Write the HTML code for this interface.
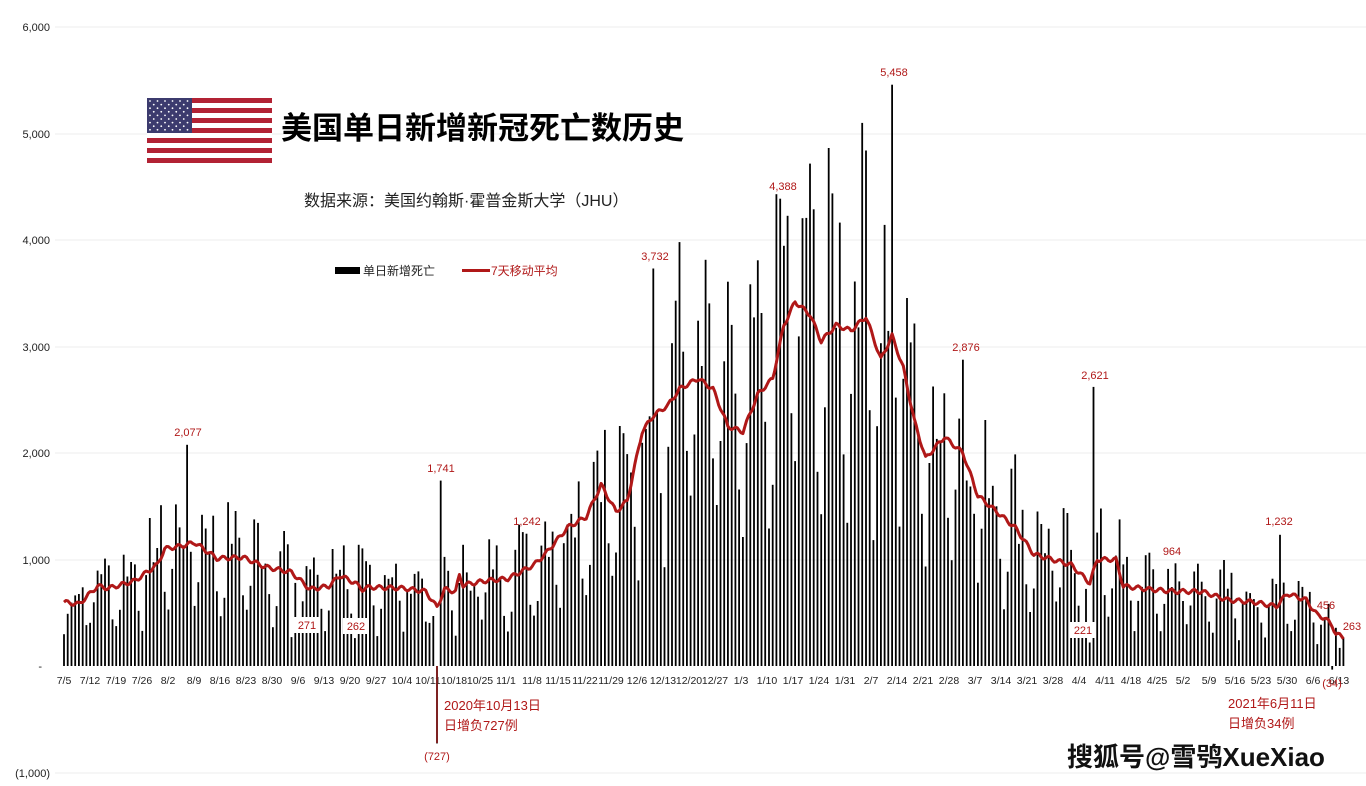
<!DOCTYPE html>
<html><head><meta charset="utf-8"><style>
html,body{margin:0;padding:0;background:#fff;width:1366px;height:786px;overflow:hidden}
svg text{font-family:"Liberation Sans","Noto Sans CJK SC",sans-serif}
</style></head><body>
<svg id="s" width="1366" height="786" xmlns="http://www.w3.org/2000/svg">
<g stroke="#ececec" stroke-width="1">
<line x1="55" x2="1366" y1="27" y2="27"/><line x1="55" x2="1366" y1="134" y2="134"/>
<line x1="55" x2="1366" y1="240" y2="240"/><line x1="55" x2="1366" y1="347" y2="347"/>
<line x1="55" x2="1366" y1="453" y2="453"/><line x1="55" x2="1366" y1="560" y2="560"/>
<line x1="55" x2="1366" y1="773" y2="773"/>
</g>
<g font-size="11" fill="#222" text-anchor="end">
<text x="50" y="31">6,000</text><text x="50" y="138">5,000</text><text x="50" y="244">4,000</text>
<text x="50" y="351">3,000</text><text x="50" y="457">2,000</text><text x="50" y="564">1,000</text>
<text x="42" y="670">-</text><text x="50" y="777">(1,000)</text>
</g>
<g id="bars" fill="#000"></g>
<path id="ma" fill="none" stroke="#b01818" stroke-width="3" stroke-linejoin="round"/>
<g font-size="10.5" fill="#222" text-anchor="middle" id="ticks">
<text x="64" y="684">7/5</text><text x="90" y="684">7/12</text><text x="116" y="684">7/19</text><text x="142" y="684">7/26</text><text x="168" y="684">8/2</text><text x="194" y="684">8/9</text><text x="220" y="684">8/16</text><text x="246" y="684">8/23</text><text x="272" y="684">8/30</text><text x="298" y="684">9/6</text><text x="324" y="684">9/13</text><text x="350" y="684">9/20</text><text x="376" y="684">9/27</text><text x="402" y="684">10/4</text><text x="428" y="684">10/11</text><text x="454" y="684">10/18</text><text x="480" y="684">10/25</text><text x="506" y="684">11/1</text><text x="532" y="684">11/8</text><text x="558" y="684">11/15</text><text x="585" y="684">11/22</text><text x="611" y="684">11/29</text><text x="637" y="684">12/6</text><text x="663" y="684">12/13</text><text x="689" y="684">12/20</text><text x="715" y="684">12/27</text><text x="741" y="684">1/3</text><text x="767" y="684">1/10</text><text x="793" y="684">1/17</text><text x="819" y="684">1/24</text><text x="845" y="684">1/31</text><text x="871" y="684">2/7</text><text x="897" y="684">2/14</text><text x="923" y="684">2/21</text><text x="949" y="684">2/28</text><text x="975" y="684">3/7</text><text x="1001" y="684">3/14</text><text x="1027" y="684">3/21</text><text x="1053" y="684">3/28</text><text x="1079" y="684">4/4</text><text x="1105" y="684">4/11</text><text x="1131" y="684">4/18</text><text x="1157" y="684">4/25</text><text x="1183" y="684">5/2</text><text x="1209" y="684">5/9</text><text x="1235" y="684">5/16</text><text x="1261" y="684">5/23</text><text x="1287" y="684">5/30</text><text x="1313" y="684">6/6</text><text x="1339" y="684">6/13</text>
</g>
<g fill="#fff">
<rect x="294" y="617" width="26" height="16"/><rect x="343" y="618" width="26" height="16"/><rect x="1070" y="622" width="26" height="16"/>
</g>
<g font-size="11" fill="#b01818" text-anchor="middle">
<text x="188" y="436">2,077</text><text x="441" y="472">1,741</text><text x="527" y="525">1,242</text>
<text x="655" y="260">3,732</text><text x="783" y="190">4,388</text><text x="894" y="76">5,458</text>
<text x="966" y="351">2,876</text><text x="1095" y="379">2,621</text><text x="1172" y="555">964</text>
<text x="1279" y="525">1,232</text><text x="1326" y="609">456</text><text x="1352" y="630">263</text>
<text x="1083" y="634">221</text><text x="307" y="629">271</text><text x="356" y="630">262</text>
<text x="437" y="760">(727)</text><text x="1332" y="687">(34)</text>
</g>
<line x1="437" y1="666" x2="437" y2="743" stroke="#b01818" stroke-width="1.2"/>
<g font-size="13" fill="#b01818">
<text x="444" y="710">2020年10月13日</text><text x="444" y="730">日增负727例</text>
<text x="1228" y="708">2021年6月11日</text><text x="1228" y="728">日增负34例</text>
</g>
<g>
<rect x="147" y="98" width="125" height="66" fill="#fff"/>
<g fill="#b22234">
<rect x="147" y="98" width="125" height="5"/><rect x="147" y="108" width="125" height="5"/><rect x="147" y="118" width="125" height="5"/><rect x="147" y="128" width="125" height="5"/><rect x="147" y="138" width="125" height="5"/><rect x="147" y="148" width="125" height="5"/><rect x="147" y="158" width="125" height="5"/>
</g>
<rect x="147" y="98" width="45" height="35" fill="#3c3b6e"/>
<g id="stars" fill="#fff"></g>
</g>
<text x="281" y="139" font-size="31" font-weight="bold" fill="#000">美国单日新增新冠死亡数历史</text>
<text x="304" y="206" font-size="16" fill="#222">数据来源：美国约翰斯·霍普金斯大学（JHU）</text>
<rect x="335" y="267" width="25" height="7" fill="#000"/>
<text x="363" y="275" font-size="12" fill="#222">单日新增死亡</text>
<line x1="462" y1="270.5" x2="490" y2="270.5" stroke="#b01818" stroke-width="3"/>
<text x="491" y="275" font-size="12" fill="#b01818">7天移动平均</text>
<text x="1067" y="766" font-size="26" font-weight="bold" fill="#111">搜狐号@雪鸮XueXiao</text>
</svg>
<script>
var X=function(d){return 64+d*3.73},Y=function(v){return 666-v*0.1065};
var cp=[[0,600],[4,580],[9,750],[12,730],[19,800],[25,950],[27,1100],[32,1130],[35,1160],[41,1010],[48,1020],[54,930],[61,880],[66,720],[71,750],[74,850],[78,780],[80,720],[82,740],[91,730],[97,700],[100,550],[102,720],[105,700],[106,850],[107,760],[113,800],[119,820],[126,950],[129,1050],[135,1300],[140,1400],[144,1700],[148,1450],[151,1550],[155,2200],[158,2350],[162,2450],[165,2600],[170,2700],[174,2600],[178,2250],[182,2200],[186,2550],[190,2700],[193,3200],[196,3420],[200,3300],[203,3050],[207,3200],[211,3150],[215,3280],[219,2880],[222,3100],[225,2800],[228,2300],[231,1950],[236,2150],[241,2000],[245,1600],[250,1450],[255,1300],[260,1050],[265,1000],[270,950],[275,780],[277,1000],[282,1000],[284,750],[291,720],[298,700],[305,700],[312,620],[319,600],[325,560],[328,680],[333,620],[336,480],[338,450],[340,380],[341,300],[343,270]];
function ma(d){for(var i=0;i<cp.length-1;i++){if(d>=cp[i][0]&&d<=cp[i+1][0]){var t=(d-cp[i][0])/(cp[i+1][0]-cp[i][0]);return cp[i][1]+t*(cp[i+1][1]-cp[i][1]);}}return 270;}
var p="";for(var d=0;d<=343;d+=0.5){var v=ma(d)+ (Math.sin(d*2.1)*20);p+=(d?"L":"M")+X(d).toFixed(1)+","+Y(v).toFixed(1);}
document.getElementById("ma").setAttribute("d",p);
var seed=7;function r(){seed=(seed*9301+49297)%233280;return seed/233280;}
var wf=[0.5,0.8,1.25,1.3,1.2,1.2,0.75];
var fix={33:2077,100:-727,101:1741,124:1242,158:3732,164:3430,165:3980,192:4388,214:5100,222:5458,241:2876,276:2621,275:221,298:964,326:1232,340:-34,338:456,343:263,61:271,78:262};
var h="";for(var d=0;d<=343;d++){var v=fix[d]!==undefined?fix[d]:ma(d)*wf[d%7]*(0.75+r()*0.5);
var y0=Y(Math.max(v,0)),y1=Y(Math.min(v,0));h+='<rect x="'+(X(d)-0.9).toFixed(1)+'" y="'+y0.toFixed(1)+'" width="1.8" height="'+(y1-y0).toFixed(1)+'"/>';}
document.getElementById("bars").innerHTML=h;
var st="";for(var i=0;i<9;i++)for(var j=0;j<(i%2?5:6);j++){st+='<circle cx="'+(150+j*7.5+(i%2?3.75:0))+'" cy="'+(101+i*3.6)+'" r="0.9"/>';}
document.getElementById("stars").innerHTML=st;
</script>
</body></html>
